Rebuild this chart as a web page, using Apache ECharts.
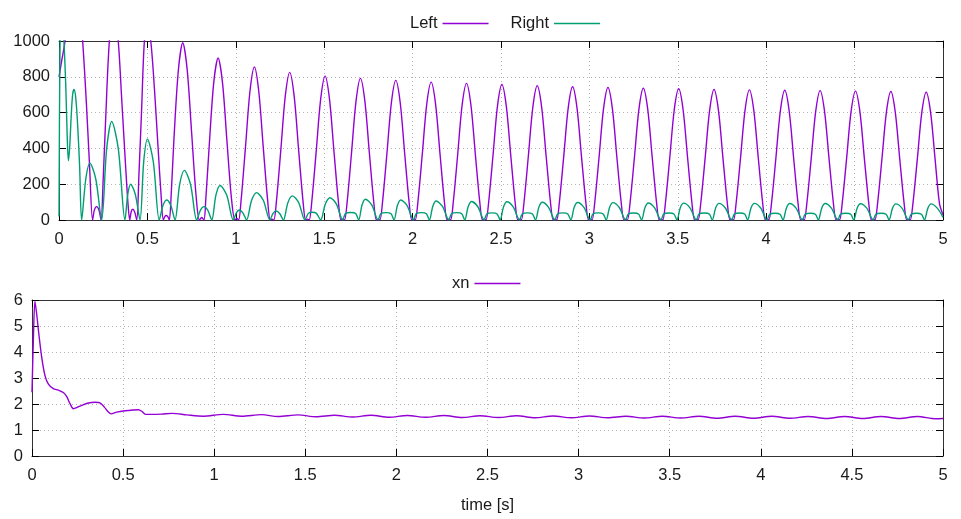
<!DOCTYPE html>
<html>
<head>
<meta charset="utf-8">
<title>Left / Right / xn</title>
<script src="https://cdn.jsdelivr.net/npm/echarts@6/dist/echarts.min.js"></script>
<style>
  html, body { margin: 0; padding: 0; background: #ffffff; }
  #chart { width: 961px; height: 519px; }
</style>
</head>
<body>
<div id="chart"></div>
<script>
// Tick positions for the shared time axis and the two value axes
const timeTicks = [0, 0.5, 1, 1.5, 2, 2.5, 3, 3.5, 4, 4.5, 5];
const levelTicks = [0, 200, 400, 600, 800, 1000];
const xnTicks = [0, 1, 2, 3, 4, 5, 6];

// Legend / axis texts
const seriesNames = ['Left', 'Right', 'xn'];
const timeLabel = 'time [s]';

// Left channel: [time s, value]
const leftPoints = [
  [0,800],[0.017,900],[0.034,1000],[0.06,1300],[0.085,1400],[0.11,1300],[0.134,1000],[0.155,650],[0.172,320],[0.19,0],
  [0.2,55],[0.213,75],[0.226,55],[0.238,0],
  [0.25,230],[0.265,590],[0.285,1000],[0.31,1190],[0.335,1000],[0.355,670],[0.375,330],[0.39,95],[0.40,0],
  [0.408,45],[0.417,60],[0.428,45],[0.44,0],
  [0.452,250],[0.467,610],[0.483,1000],[0.50,1090],[0.519,1000],[0.54,730],[0.56,410],[0.578,130],[0.59,0],
  [0.599,20],[0.607,25],[0.616,18],[0.624,0],
  [0.634,130],[0.65,450],[0.675,835],[0.70,990],[0.725,840],[0.75,490],[0.775,140],[0.794,0],
  [0.807,14],[0.82,0],
  [0.83,110],[0.85,420],[0.875,765],[0.90,905],[0.925,765],[0.95,440],[0.975,125],[0.995,0],
  [1.006,8],[1.016,0],
  [1.03,111],[1.055,410],[1.08,718],[1.105,855],[1.13,718],[1.155,410],[1.18,111],[1.195,0],[1.205,5],[1.215,0],
  [1.23,107],[1.255,396],[1.28,693],[1.305,825],[1.33,693],[1.355,396],[1.38,107],[1.395,0],[1.405,5],[1.415,0],
  [1.43,105],[1.455,386],[1.48,675],[1.505,804],[1.53,675],[1.555,386],[1.58,105],[1.595,0],[1.605,5],[1.615,0],
  [1.63,103],[1.655,380],[1.68,664],[1.705,791],[1.73,664],[1.755,380],[1.78,103],[1.795,0],[1.805,5],[1.815,0],
  [1.83,101],[1.855,374],[1.88,655],[1.905,780],[1.93,655],[1.955,374],[1.98,101],[1.995,0],[2.005,5],[2.015,0],
  [2.03,100],[2.055,370],[2.08,647],[2.105,770],[2.13,647],[2.155,370],[2.18,100],[2.195,0],[2.205,5],[2.215,0],
  [2.23,99],[2.255,366],[2.28,641],[2.305,763],[2.33,641],[2.355,366],[2.38,99],[2.395,0],[2.405,5],[2.415,0],
  [2.43,98],[2.455,363],[2.48,636],[2.505,757],[2.53,636],[2.555,363],[2.58,98],[2.595,0],[2.605,5],[2.615,0],
  [2.63,98],[2.655,360],[2.68,630],[2.705,750],[2.73,630],[2.755,360],[2.78,98],[2.795,0],[2.805,5],[2.815,0],
  [2.83,97],[2.855,357],[2.88,625],[2.905,744],[2.93,625],[2.955,357],[2.98,97],[2.995,0],[3.005,5],[3.015,0],
  [3.03,96],[3.055,355],[3.08,622],[3.105,740],[3.13,622],[3.155,355],[3.18,96],[3.195,0],[3.205,5],[3.215,0],
  [3.23,96],[3.255,353],[3.28,618],[3.305,736],[3.33,618],[3.355,353],[3.38,96],[3.395,0],[3.405,5],[3.415,0],
  [3.43,95],[3.455,352],[3.48,616],[3.505,733],[3.53,616],[3.555,352],[3.58,95],[3.595,0],[3.605,5],[3.615,0],
  [3.63,95],[3.655,350],[3.68,612],[3.705,729],[3.73,612],[3.755,350],[3.78,95],[3.795,0],[3.805,5],[3.815,0],
  [3.83,95],[3.855,349],[3.88,611],[3.905,727],[3.93,611],[3.955,349],[3.98,95],[3.995,0],[4.005,5],[4.015,0],
  [4.03,94],[4.055,348],[4.08,609],[4.105,725],[4.13,609],[4.155,348],[4.18,94],[4.195,0],[4.205,5],[4.215,0],
  [4.23,94],[4.255,347],[4.28,607],[4.305,723],[4.33,607],[4.355,347],[4.38,94],[4.395,0],[4.405,5],[4.415,0],
  [4.43,94],[4.455,346],[4.48,605],[4.505,720],[4.53,605],[4.555,346],[4.58,94],[4.595,0],[4.605,5],[4.615,0],
  [4.63,93],[4.655,345],[4.68,603],[4.705,718],[4.73,603],[4.755,345],[4.78,93],[4.795,0],[4.805,5],[4.815,0],
  [4.83,93],[4.855,343],[4.88,600],[4.905,714],[4.93,600],[4.955,343],[4.98,93],[5.0,30]
];

// Right channel: [time s, value]
const rightPoints = [
  [0,20],[0.006,1000],[0.015,1250],[0.028,1000],[0.038,760],[0.046,480],[0.053,332],[0.06,400],[0.069,580],[0.077,700],
  [0.085,729],[0.095,680],[0.106,520],[0.117,290],[0.128,0],
  [0.1515,229],[0.175,318],[0.208,229],[0.241,0],
  [0.2695,397],[0.298,551],[0.3355,397],[0.373,0],
  [0.389,144],[0.405,200],[0.4315,144],[0.458,0],
  [0.479,325],[0.50,452],[0.5335,325],[0.567,0],
  [0.588,81],[0.609,112],[0.6325,81],[0.656,0],
  [0.6825,199],[0.709,277],[0.744,199],[0.779,0],
  [0.7995,54],[0.82,75],[0.842,54],[0.864,0],
  [0.8875,139],[0.911,193],[0.9485,139],[0.986,0],
  [1.003,40],[1.02,56],[1.04,40],[1.061,0],
  [1.0895,110],[1.118,153],[1.1555,110],[1.193,0],
  [1.21,36],[1.228,50],[1.248,36],[1.269,0],
  [1.2945,97],[1.32,135],[1.3555,97],[1.391,0],
  [1.41,37],[1.432,43],[1.456,37],[1.48,0],
  [1.5065,89],[1.533,124],[1.569,89],[1.605,0],
  [1.62,36],[1.65,42],[1.678,36],[1.695,0],[1.714,84],[1.733,116],[1.769,84],[1.805,0],
  [1.82,35],[1.85,41],[1.878,35],[1.895,0],[1.914,81],[1.933,112],[1.969,81],[2.005,0],
  [2.02,35],[2.05,41],[2.078,35],[2.095,0],[2.114,76],[2.133,106],[2.169,76],[2.205,0],
  [2.22,35],[2.25,41],[2.278,35],[2.295,0],[2.314,74],[2.333,103],[2.369,74],[2.405,0],
  [2.42,34],[2.45,40],[2.478,34],[2.495,0],[2.514,73],[2.533,102],[2.569,73],[2.605,0],
  [2.62,34],[2.65,40],[2.678,34],[2.695,0],[2.714,71],[2.733,99],[2.769,71],[2.805,0],
  [2.82,34],[2.85,40],[2.878,34],[2.895,0],[2.914,71],[2.933,98],[2.969,71],[3.005,0],
  [3.02,34],[3.05,40],[3.078,34],[3.095,0],[3.114,70],[3.133,97],[3.169,70],[3.205,0],
  [3.22,33],[3.25,39],[3.278,33],[3.295,0],[3.314,68],[3.333,95],[3.369,68],[3.405,0],
  [3.42,33],[3.45,39],[3.478,33],[3.495,0],[3.514,68],[3.533,94],[3.569,68],[3.605,0],
  [3.62,33],[3.65,39],[3.678,33],[3.695,0],[3.714,67],[3.733,93],[3.769,67],[3.805,0],
  [3.82,33],[3.85,39],[3.878,33],[3.895,0],[3.914,67],[3.933,93],[3.969,67],[4.005,0],
  [4.02,32],[4.05,38],[4.078,32],[4.095,0],[4.114,66],[4.133,92],[4.169,66],[4.205,0],
  [4.22,32],[4.25,38],[4.278,32],[4.295,0],[4.314,66],[4.333,92],[4.369,66],[4.405,0],
  [4.42,32],[4.45,38],[4.478,32],[4.495,0],[4.514,66],[4.533,91],[4.569,66],[4.605,0],
  [4.62,32],[4.65,38],[4.678,32],[4.695,0],[4.714,65],[4.733,90],[4.769,65],[4.805,0],
  [4.82,32],[4.85,38],[4.878,32],[4.895,0],[4.914,65],[4.933,90],[4.969,65],[5.0,15]
];

// xn: [time s, value]
const xnPoints = [
  [0,2.45],[0.008,4.6],[0.016,5.95],[0.025,5.5],[0.035,4.85],[0.053,3.81],[0.071,3.1],[0.09,2.76],[0.117,2.59],
  [0.145,2.53],[0.172,2.44],[0.19,2.29],[0.209,2.01],[0.227,1.82],[0.245,1.86],[0.273,1.95],[0.309,2.04],
  [0.346,2.07],[0.373,2.04],[0.397,1.88],[0.419,1.69],[0.434,1.62],[0.465,1.69],[0.51,1.74],[0.556,1.77],
  [0.584,1.78],[0.606,1.70],[0.624,1.60],[0.657,1.60],[0.71,1.61],[0.77,1.64],[0.85,1.58],[0.94,1.53],
  [1.05,1.60],[1.15,1.53],[1.26,1.59],[1.35,1.52],[1.46,1.58],[1.56,1.51],[1.66,1.57],[1.76,1.50],
  [1.86,1.57],[1.96,1.49],[2.06,1.56],[2.16,1.49],[2.26,1.56],[2.36,1.48],[2.46,1.55],[2.56,1.48],
  [2.66,1.55],[2.76,1.47],[2.86,1.54],[2.96,1.47],[3.06,1.54],[3.16,1.47],[3.26,1.53],[3.36,1.46],
  [3.46,1.53],[3.56,1.46],[3.66,1.53],[3.76,1.45],[3.86,1.53],[3.96,1.45],[4.06,1.53],[4.16,1.45],
  [4.26,1.52],[4.36,1.44],[4.46,1.52],[4.56,1.44],[4.66,1.52],[4.76,1.44],[4.86,1.52],[4.96,1.43],[5.0,1.44]
];

const FONT = 'Liberation Sans, Arial, sans-serif';
const FS = 16.5;
const TEXT = '#1a1a1a';
const PURPLE = '#9400d3';
const GREEN = '#009e73';

function span(ticks) {
  return { min: ticks[0], max: ticks[ticks.length - 1], interval: ticks[1] - ticks[0] };
}
const plainNumber = (v) => String(v);

const gridLine = { show: true, lineStyle: { color: '#b4b4b4', width: 1, type: [1, 3] } };
const tick = { show: true, inside: true, length: 7, lineStyle: { color: '#000', width: 1 } };
const frameLine = { show: true, onZero: false, lineStyle: { color: '#333', width: 1 } };

function mainX(gridIndex, extra) {
  return Object.assign({
    type: 'value', gridIndex, position: 'bottom', ...span(timeTicks),
    axisLine: frameLine, axisTick: tick, splitLine: gridLine,
    axisLabel: { color: TEXT, fontFamily: FONT, fontSize: FS, margin: 11, formatter: plainNumber }
  }, extra || {});
}
function mirrorX(gridIndex) {
  return {
    type: 'value', gridIndex, position: 'top', ...span(timeTicks),
    axisLine: frameLine, axisTick: tick, splitLine: { show: false }, axisLabel: { show: false }
  };
}
function mainY(gridIndex, ticks) {
  return {
    type: 'value', gridIndex, position: 'left', ...span(ticks),
    axisLine: frameLine, axisTick: tick, splitLine: gridLine,
    axisLabel: { color: TEXT, fontFamily: FONT, fontSize: FS, margin: 9, formatter: plainNumber }
  };
}
function mirrorY(gridIndex, ticks) {
  return {
    type: 'value', gridIndex, position: 'right', ...span(ticks),
    axisLine: frameLine, axisTick: tick, splitLine: { show: false }, axisLabel: { show: false }
  };
}

function lineSeries(name, data, color, xIdx, yIdx) {
  return {
    name, type: 'line', data, xAxisIndex: xIdx, yAxisIndex: yIdx,
    showSymbol: false, symbol: 'none', smooth: 0.3, clip: true,
    lineStyle: { color, width: 1.4 }, itemStyle: { color }, z: 3
  };
}

const legendText = { color: TEXT, fontFamily: FONT, fontSize: FS };

const chart = echarts.init(document.getElementById('chart'), null, { renderer: 'canvas' });
chart.setOption({
  animation: false,
  backgroundColor: '#ffffff',
  textStyle: { fontFamily: FONT, color: TEXT },
  grid: [
    { left: 59, top: 41, width: 884, height: 179, show: false },
    { left: 32, top: 300, width: 911, height: 156, show: false }
  ],
  legend: [
    {
      data: [seriesNames[0], seriesNames[1]], left: 405, top: 10, align: 'right',
      icon: 'rect', itemWidth: 46, itemHeight: 1.4, itemGap: 22, textStyle: legendText
    },
    {
      data: [seriesNames[2]], left: 447, top: 270, align: 'right',
      icon: 'rect', itemWidth: 46, itemHeight: 1.4, textStyle: legendText
    }
  ],
  xAxis: [
    mainX(0),
    mirrorX(0),
    mainX(1, {
      name: timeLabel, nameLocation: 'middle', nameGap: 41,
      nameTextStyle: { color: TEXT, fontFamily: FONT, fontSize: FS }
    }),
    mirrorX(1)
  ],
  yAxis: [
    mainY(0, levelTicks),
    mirrorY(0, levelTicks),
    mainY(1, xnTicks),
    mirrorY(1, xnTicks)
  ],
  series: [
    lineSeries(seriesNames[0], leftPoints, PURPLE, 0, 0),
    lineSeries(seriesNames[1], rightPoints, GREEN, 0, 0),
    lineSeries(seriesNames[2], xnPoints, PURPLE, 2, 2)
  ]
});
</script>
</body>
</html>
